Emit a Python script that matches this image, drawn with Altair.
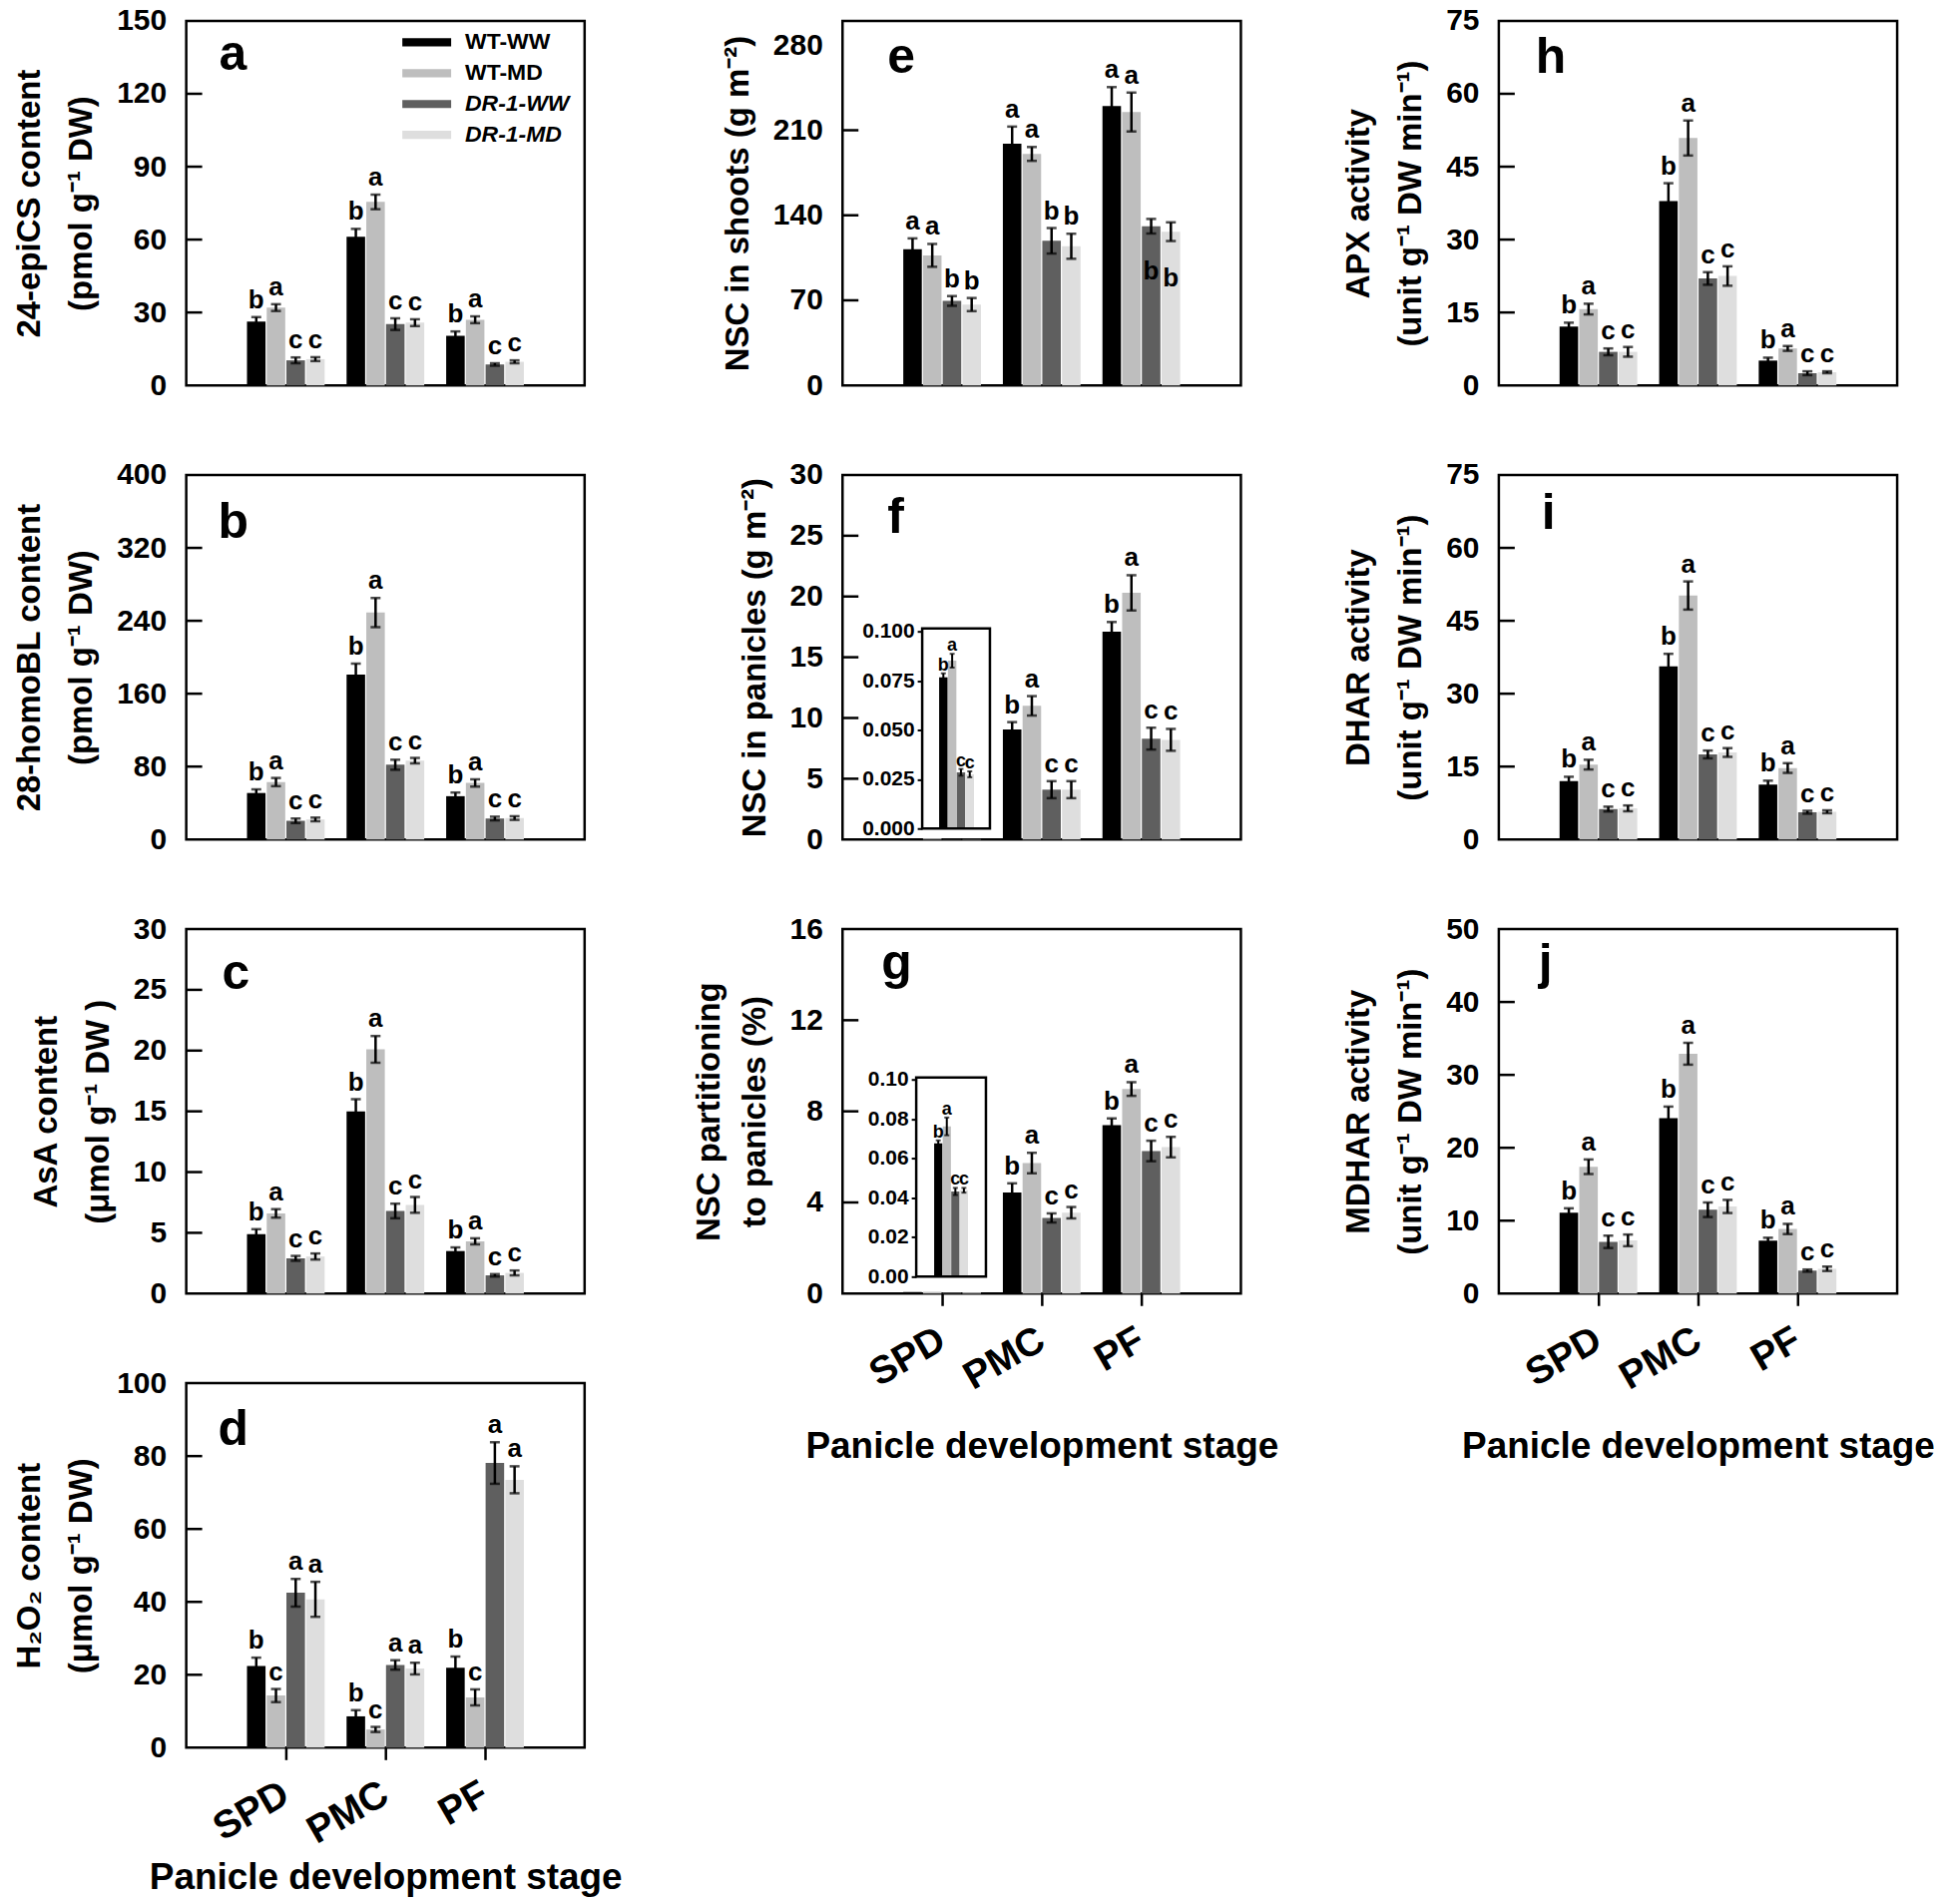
import altair as alt
import pandas as pd

FONT = "Liberation Sans"
stages = ["SPD", "PMC", "PF"]
series = ["WT-WW", "WT-MD", "DR-1-WW", "DR-1-MD"]
bar_colors = ["#000000", "#bebebe", "#5f5f5f", "#dedede"]

# rows: WT-WW, WT-MD, DR-1-WW, DR-1-MD ; columns: SPD, PMC, PF
a_values = [[26.3, 61.2, 20.4], [32.0, 75.5, 27.0], [10.3, 25.2, 8.6], [10.8, 25.8, 9.7]]
a_errors = [[1.8, 3.2, 1.8], [1.4, 3.0, 1.4], [1.2, 2.4, 0.5], [0.8, 1.4, 0.6]]
a_letters = [["b", "a", "c", "c"], ["b", "a", "c", "c"], ["b", "a", "c", "c"]]

b_values = [[51, 181, 47.5], [63, 249, 62], [20.5, 82, 23], [22, 86.5, 23.5]]
b_errors = [[4, 12, 4], [4.5, 16, 4], [2.5, 5.5, 2], [2, 3, 2]]
b_letters = [["b", "a", "c", "c"], ["b", "a", "c", "c"], ["b", "a", "c", "c"]]

c_values = [[4.9, 15.0, 3.5], [6.6, 20.1, 4.3], [2.9, 6.8, 1.5], [3.05, 7.3, 1.7]]
c_errors = [[0.4, 1.0, 0.3], [0.35, 1.1, 0.25], [0.2, 0.6, 0.1], [0.25, 0.65, 0.2]]
c_letters = [["b", "a", "c", "c"], ["b", "a", "c", "c"], ["b", "a", "c", "c"]]

d_values = [[22.4, 8.6, 21.9], [14.3, 5.0, 13.8], [42.5, 22.7, 78.1], [40.7, 21.7, 73.5]]
d_errors = [[2.3, 1.7, 3.1], [1.8, 0.7, 2.2], [3.8, 1.3, 5.7], [4.8, 1.6, 3.7]]
d_letters = [["b", "c", "a", "a"], ["b", "c", "a", "a"], ["b", "c", "a", "a"]]

e_values = [[112, 199, 230], [107, 190.5, 225], [69.5, 119, 131], [66.5, 114.5, 126.5]]
e_errors = [[9, 14, 15.5], [9.4, 5.7, 16], [4, 10.5, 6], [5.4, 10.3, 7.7]]
e_letters = [["a", "a", "b", "b"], ["a", "a", "b", "b"], ["a", "a", "b", "b"]]

f_values = [[0.0767, 9.06, 17.1], [0.0851, 11.0, 20.3], [0.0285, 4.1, 8.3], [0.0275, 4.1, 8.2]]
f_errors = [[0.002, 0.6, 0.8], [0.0035, 0.8, 1.45], [0.0017, 0.7, 0.9], [0.0015, 0.7, 0.9]]
f_letters = [["b", "a", "c", "c"], ["b", "a", "c", "c"], ["b", "a", "c", "c"]]

g_values = [[0.0676, 4.44, 7.39], [0.0762, 5.73, 8.98], [0.0432, 3.32, 6.26], [0.0438, 3.55, 6.43]]
g_errors = [[0.0015, 0.4, 0.3], [0.0045, 0.45, 0.3], [0.0018, 0.2, 0.45], [0.0012, 0.25, 0.45]]
g_letters = [["b", "a", "c", "c"], ["b", "a", "c", "c"], ["b", "a", "c", "c"]]

h_values = [[12.1, 37.9, 5.1], [15.7, 50.9, 7.6], [6.9, 22.0, 2.5], [6.9, 22.5, 2.7]]
h_errors = [[0.8, 3.7, 0.6], [1.1, 3.6, 0.5], [0.7, 1.3, 0.4], [1.0, 2.0, 0.2]]
h_letters = [["b", "a", "c", "c"], ["b", "a", "c", "c"], ["b", "a", "c", "c"]]

i_values = [[12.0, 35.6, 11.3], [15.4, 50.2, 14.7], [6.25, 17.5, 5.6], [6.4, 17.9, 5.7]]
i_errors = [[0.9, 2.6, 0.8], [1.0, 2.9, 1.0], [0.5, 0.8, 0.3], [0.6, 0.9, 0.3]]
i_letters = [["b", "a", "c", "c"], ["b", "a", "c", "c"], ["b", "a", "c", "c"]]

j_values = [[11.1, 24.05, 7.26], [17.4, 32.9, 8.86], [7.1, 11.5, 3.15], [7.3, 11.95, 3.4]]
j_errors = [[0.6, 1.6, 0.4], [1.0, 1.5, 0.7], [0.85, 1.0, 0.15], [0.8, 0.9, 0.3]]
j_letters = [["b", "a", "c", "c"], ["b", "a", "c", "c"], ["b", "a", "c", "c"]]

x_title = "Panicle development stage"

W, H = 400, 366

panels = {
    "a": dict(values=a_values, errors=a_errors, letters=a_letters, ymax=150, ticks=[0, 30, 60, 90, 120, 150],
              title=["24-epiCS content", "(pmol g\u207b\u00b9 DW)"], lh=52, tag_xy=(33, 49), legend=True),
    "b": dict(values=b_values, errors=b_errors, letters=b_letters, ymax=400, ticks=[0, 80, 160, 240, 320, 400],
              title=["28-homoBL content", "(pmol g\u207b\u00b9 DW)"], lh=52, tag_xy=(32, 63)),
    "c": dict(values=c_values, errors=c_errors, letters=c_letters, ymax=30, ticks=[0, 5, 10, 15, 20, 25, 30],
              title=["AsA content", "(\u03bcmol g\u207b\u00b9 DW )"], lh=52, tag_xy=(36, 60)),
    "d": dict(values=d_values, errors=d_errors, letters=d_letters, ymax=100, ticks=[0, 20, 40, 60, 80, 100],
              title=["H\u2082O\u2082 content", "(\u03bcmol g\u207b\u00b9 DW)"], lh=52, tag_xy=(32, 62),
              xaxis=True, xpad=9),
    "e": dict(values=e_values, errors=e_errors, letters=e_letters, ymax=300, ticks=[0, 70, 140, 210, 280],
              title="NSC in shoots (g m\u207b\u00b2)", lh=52, tag_xy=(45, 52),
              below={("PF", "DR-1-WW"), ("PF", "DR-1-MD")}),
    "f": dict(values=f_values, errors=f_errors, letters=f_letters, ymax=30, ticks=[0, 5, 10, 15, 20, 25, 30],
              title="NSC in panicles (g m\u207b\u00b2)", lh=52, tag_xy=(45, 58),
              inset=dict(frame=(80, 148, 154, 355), bars_x=[97, 132], yr=[355, 157], ymax=0.1,
                         ticks=[0, 0.025, 0.05, 0.075, 0.1], fmt=".3f")),
    "g": dict(values=g_values, errors=g_errors, letters=g_letters, ymax=16, ticks=[0, 4, 8, 12, 16],
              title=["NSC partitioning", "to panicles (%)"], lh=46, tag_xy=(39, 50), xaxis=True, xpad=32,
              inset=dict(frame=(74, 144, 149, 349), bars_x=[92, 126], yr=[349, 151], ymax=0.1,
                         ticks=[0, 0.02, 0.04, 0.06, 0.08, 0.1], fmt=".2f")),
    "h": dict(values=h_values, errors=h_errors, letters=h_letters, ymax=75, ticks=[0, 15, 30, 45, 60, 75],
              title=["APX activity", "(unit g\u207b\u00b9 DW min\u207b\u00b9)"], lh=52, tag_xy=(37, 52)),
    "i": dict(values=i_values, errors=i_errors, letters=i_letters, ymax=75, ticks=[0, 15, 30, 45, 60, 75],
              title=["DHAR activity", "(unit g\u207b\u00b9 DW min\u207b\u00b9)"], lh=52, tag_xy=(43, 54)),
    "j": dict(values=j_values, errors=j_errors, letters=j_letters, ymax=50, ticks=[0, 10, 20, 30, 40, 50],
              title=["MDHAR activity", "(unit g\u207b\u00b9 DW min\u207b\u00b9)"], lh=52, tag_xy=(40, 50),
              xaxis=True, xpad=32),
}

color_scale = alt.Scale(domain=series, range=bar_colors)

# wide flat swatch: path spans 6 x 1 units, size 267 -> unit radius ~8.2 px -> 49 x 8 px
legend = alt.Legend(
    title=None, orient="none", legendX=230, legendY=10, direction="vertical",
    symbolType="M-3,-0.5L3,-0.5L3,0.5L-3,0.5Z", symbolSize=267, symbolStrokeWidth=0,
    labelFontSize=23, labelFont=FONT, labelFontWeight="bold", labelColor="black",
    labelOffset=27, rowPadding=7,
    labelFontStyle={"expr": "indexof(datum.label, 'DR') === 0 ? 'italic' : 'normal'"},
)


def build_df(p):
    rows = []
    below = p.get("below", set())
    for si, s in enumerate(series):
        for ti, t in enumerate(stages):
            v = p["values"][si][ti]
            e = p["errors"][si][ti]
            rows.append({"stage": t, "series": s, "value": v, "lo": v - e, "hi": v + e,
                         "letter": p["letters"][ti][si], "below": (t, s) in below})
    return pd.DataFrame(rows)


def error_layers(df, X, XO, Yf, cap, lw, fsize, gap):
    rules = alt.Chart(df).mark_rule(color="black", strokeWidth=lw).encode(
        x=X, y=Yf("lo:Q"), y2="hi:Q", **XO)
    caps_df = df.melt(id_vars=["stage", "series"], value_vars=["lo", "hi"], value_name="cap")
    caps = alt.Chart(caps_df).mark_tick(color="black", size=cap, thickness=lw).encode(
        x=X, y=Yf("cap:Q"), **XO)
    layers = [rules, caps]
    above = df[~df["below"]]
    layers.append(alt.Chart(above).mark_text(
        font=FONT, fontSize=fsize, fontWeight="bold", baseline="alphabetic", dy=-gap, color="black").encode(
        x=X, y=Yf("hi:Q"), text="letter:N", **XO))
    under = df[df["below"]]
    if len(under):
        layers.append(alt.Chart(under).mark_text(
            font=FONT, fontSize=fsize, fontWeight="bold", baseline="top", dy=25, color="black").encode(
            x=X, y=Yf("lo:Q"), text="letter:N", **XO))
    return layers


def make_panel(key, p):
    df = build_df(p)
    xs = alt.Scale(domain=stages, paddingInner=0.22, paddingOuter=0.61)
    ys = alt.Scale(domain=[0, p["ymax"]], nice=False, zero=True)
    xos = alt.Scale(domain=series, paddingInner=0.06)
    if p.get("xaxis"):
        xaxis = alt.Axis(title=x_title, labelAngle=330, labelAlign="right", labelBaseline="middle",
                         ticks=True, tickSize=12, tickWidth=2.5, tickColor="black", labelPadding=31,
                         labelFontSize=39, titleFontSize=37, titlePadding=p["xpad"], domain=False,
                         labelFlush=False)
    else:
        xaxis = None
    yaxis = alt.Axis(values=p["ticks"], title=p["title"], titleLineHeight=p["lh"])
    XO = {"xOffset": alt.XOffset("series:N", scale=xos)}
    X = alt.X("stage:N", scale=xs, axis=xaxis, title=x_title)

    def Yf(field):
        return alt.Y(field, scale=ys, axis=yaxis, title=p["title"])

    bars = alt.Chart(df).mark_bar().encode(
        x=X, y=Yf("value:Q"),
        color=alt.Color("series:N", scale=color_scale, legend=legend if p.get("legend") else None), **XO)

    main_df = df[df["stage"] != "SPD"] if p.get("inset") else df
    layers = [bars] + error_layers(main_df, X, XO, Yf, 10, 2.5, 26, 9)

    inner = pd.DataFrame({"t": p["ticks"][1:-1]})
    layers.append(alt.Chart(inner).mark_rule(color="black", strokeWidth=2.5).encode(
        y=Yf("t:Q"), x=alt.value(0), x2=alt.value(16)))
    layers.append(alt.Chart(pd.DataFrame({"k": [0]})).mark_text(
        text=key, font=FONT, fontSize=50, fontWeight="bold", align="left", baseline="alphabetic",
        color="black").encode(x=alt.value(p["tag_xy"][0]), y=alt.value(p["tag_xy"][1])))
    main = alt.layer(*layers)

    ins = p.get("inset")
    if not ins:
        return main.properties(width=W, height=H)

    idf = df[df["stage"] == "SPD"]
    ixs = alt.Scale(domain=series, range=ins["bars_x"], paddingInner=0.04, paddingOuter=0)
    iys = alt.Scale(domain=[0, ins["ymax"]], range=ins["yr"], nice=False, zero=True)
    iaxis = alt.Axis(orient="left", offset=-ins["frame"][0], values=ins["ticks"], format=ins["fmt"],
                     labelFontSize=21, ticks=True, tickSize=5, tickWidth=2, tickColor="black",
                     labelPadding=3, title=None, domain=False)
    IX = alt.X("series:N", scale=ixs, axis=None)

    def IY(field):
        return alt.Y(field, scale=iys, axis=iaxis)

    ibars = alt.Chart(idf).mark_bar().encode(
        x=IX, y=IY("value:Q"),
        color=alt.Color("series:N", scale=color_scale, legend=None))
    ilayers = [ibars] + error_layers(idf, IX, {}, IY, 5, 2, 18, 3)
    fx0, fx1, fy0, fy1 = ins["frame"]
    ilayers.append(alt.Chart(pd.DataFrame({"k": [0]})).mark_rect(
        fillOpacity=0, stroke="black", strokeWidth=2.5).encode(
        x=alt.value(fx0), x2=alt.value(fx1), y=alt.value(fy0), y2=alt.value(fy1)))
    inset = alt.layer(*ilayers)
    return alt.layer(main, inset).resolve_scale(x="independent", y="independent").properties(width=W, height=H)


order = ["a", "e", "h", "b", "f", "i", "c", "g", "j", "d"]
charts = [make_panel(k, panels[k]) for k in order]

chart = alt.concat(*charts, columns=3, spacing={"row": 90, "column": 259}, bounds="flush").properties(
    padding={"left": 4, "top": -6, "right": -2, "bottom": 0}
).configure_view(
    stroke="black", strokeWidth=2.5
).configure_axis(
    labelFont=FONT, titleFont=FONT, labelFontWeight="bold", titleFontWeight="bold",
    labelColor="black", titleColor="black", grid=False, labelFlush=False, labelOverlap=False
).configure_axisY(
    labelFontSize=30, titleFontSize=33, labelPadding=20, ticks=False, domain=False, titlePadding=18
)

chart.save("out.html", embed_options={"renderer": "svg", "actions": False})
